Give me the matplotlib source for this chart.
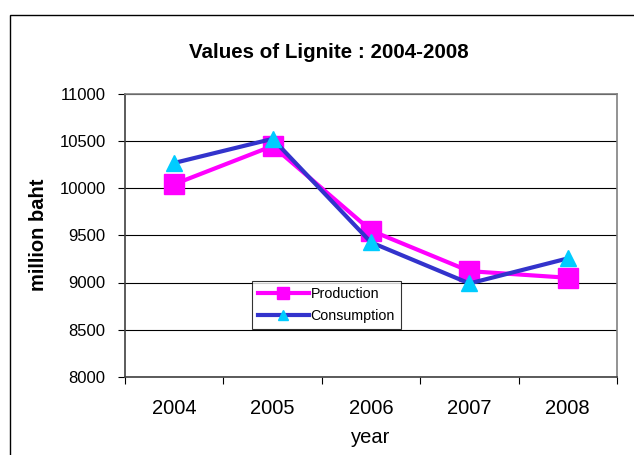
import matplotlib
matplotlib.use("Agg")
import matplotlib.pyplot as plt
from matplotlib.patches import Rectangle

plt.rcParams['font.family'] = ['Liberation Sans', 'DejaVu Sans']

years = ['2004', '2005', '2006', '2007', '2008']
production = [10040, 10445, 9550, 9120, 9050]
consumption = [10265, 10520, 9425, 8990, 9255]
yticks = [8000, 8500, 9000, 9500, 10000, 10500, 11000]

W, H = 634, 455
fig = plt.figure(figsize=(W/100, H/100), dpi=100)

# outer chart border (extends beyond right/bottom edge)
fig.patches.append(Rectangle((10/W, -0.1), 1.2, (H-15)/H + 0.1, transform=fig.transFigure,
                             fill=False, edgecolor='black', linewidth=1.0))

ax = fig.add_axes([125/W, 1-377/H, 492/W, (377-93.5)/H])
x = list(range(len(years)))
ax.plot(x, production, color='#FF00FF', linewidth=3, marker='s', markersize=14,
        markerfacecolor='#FF00FF', markeredgecolor='#FF00FF', label='Production', zorder=3)
ax.plot(x, consumption, color='#3333CC', linewidth=3, marker='^', markersize=11,
        markerfacecolor='#00CCFF', markeredgecolor='#00CCFF', label='Consumption', zorder=4)

ax.set_xlim(-0.5, len(years)-0.5)
ax.set_ylim(8000, 11000)
ax.set_yticks(yticks)
ax.set_yticklabels([str(v) for v in yticks], fontsize=12)
ax.set_xticks(x)
ax.set_xticklabels(years, fontsize=14.5)
ax.set_xticks([i-0.5 for i in range(len(years)+1)], minor=True)
ax.tick_params(axis='x', which='major', length=0, pad=16)
ax.tick_params(axis='x', which='minor', length=5, direction='out', width=0.8)
ax.tick_params(axis='y', length=5, direction='out', width=0.8, pad=9)
ax.yaxis.grid(True, color='black', linewidth=0.8)
ax.set_axisbelow(True)
for s in ['top', 'right']:
    ax.spines[s].set_color('#808080')
    ax.spines[s].set_linewidth(1.2)
for s in ['left', 'bottom']:
    ax.spines[s].set_color('#404040')
    ax.spines[s].set_linewidth(1.2)

ax.set_xlabel('year', fontsize=14.5, labelpad=7)
ax.set_ylabel('million baht', fontsize=14.5, fontweight='bold')
ax.yaxis.set_label_coords(-(125-48)/492, 0.5)
fig.text(329/W, 1-52/H, 'Values of Lignite : 2004-2008', fontsize=14.8, fontweight='bold',
         ha='center', va='center')

leg = ax.legend(loc='upper left', bbox_to_anchor=((252-125)/492, (377-281)/(377-93.5)),
                fontsize=10.3, frameon=True, fancybox=False, edgecolor='black',
                markerscale=0.6, handlelength=3.6, handletextpad=0.1,
                borderpad=0.4, labelspacing=0.6, borderaxespad=0)
leg.get_frame().set_linewidth(0.8)

fig.savefig('out.png', dpi=100)
